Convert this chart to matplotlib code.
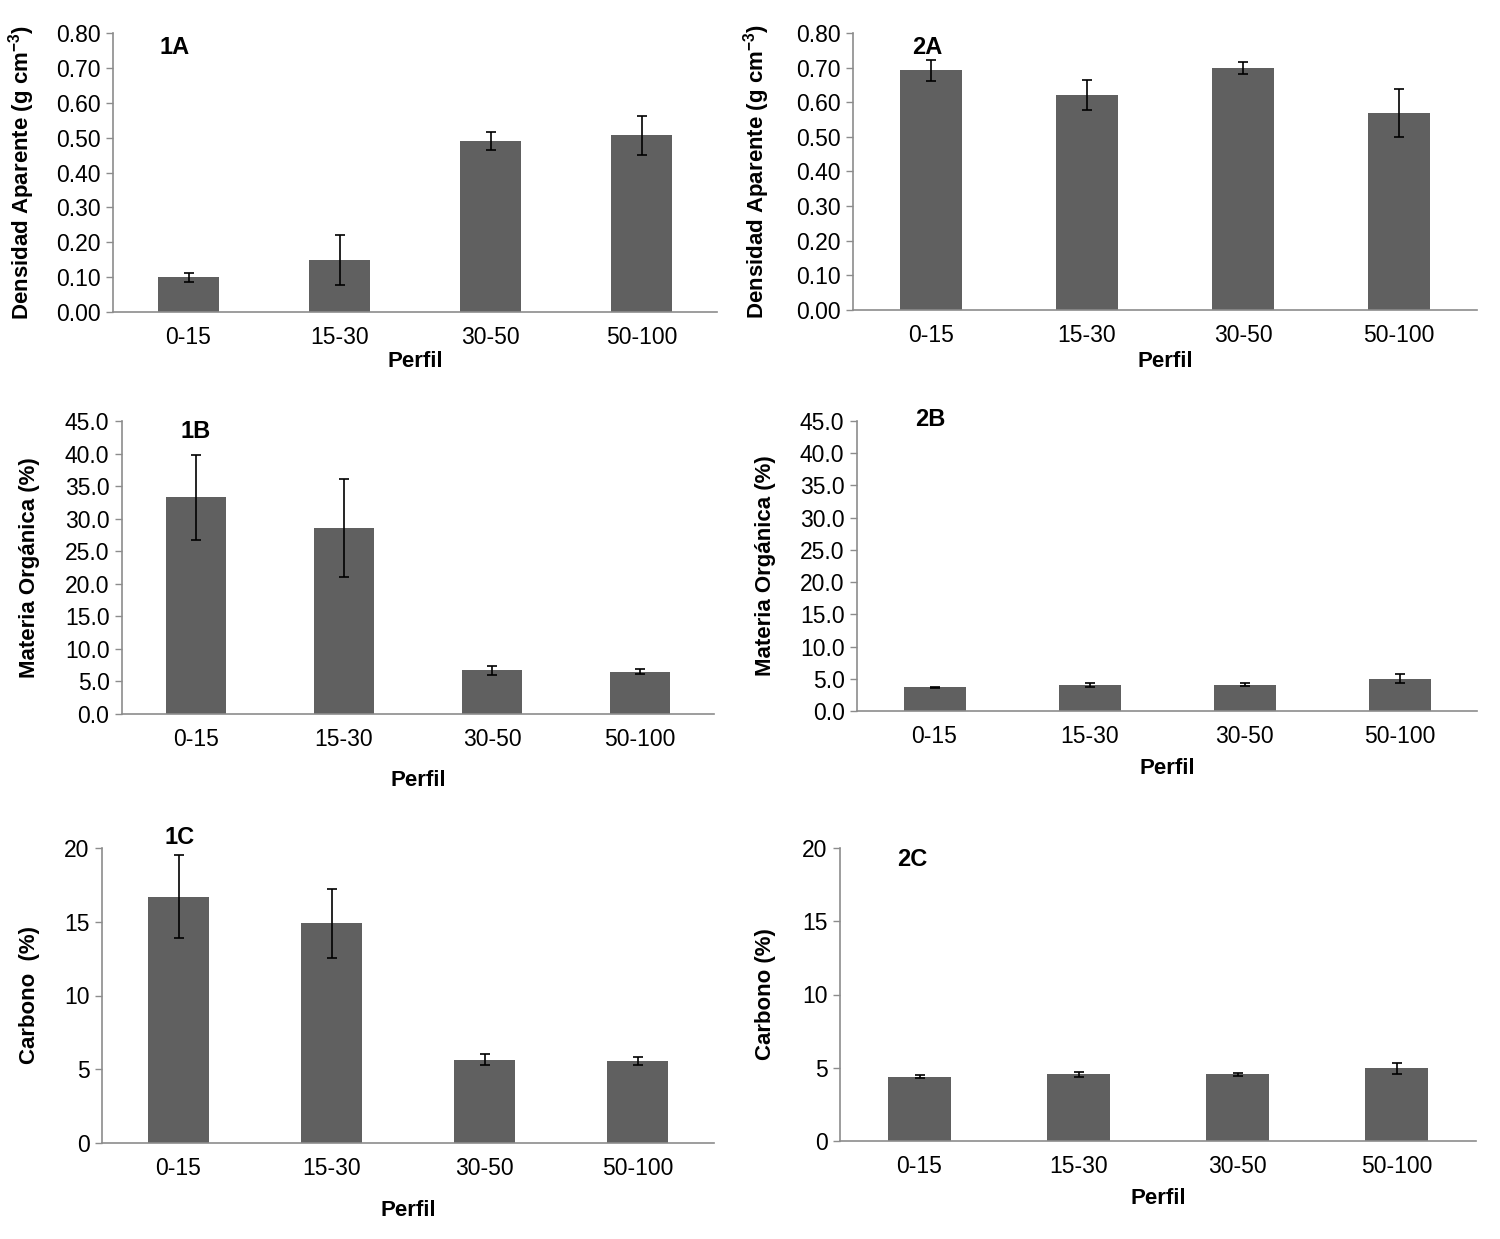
import numpy as np
import matplotlib
matplotlib.use('Agg')
import matplotlib.pyplot as plt

plt.rcParams['font.family'] = ['Liberation Sans', 'DejaVu Sans']
plt.rcParams['mathtext.fontset'] = 'custom'
plt.rcParams['mathtext.rm'] = 'Liberation Sans'
plt.rcParams['mathtext.bf'] = 'Liberation Sans:bold'

# Data
perfil = ['0-15', '15-30', '30-50', '50-100']

dens_1 = [0.10, 0.15, 0.49, 0.507]
dens_1_err = [0.013, 0.072, 0.026, 0.056]
dens_2 = [0.692, 0.62, 0.699, 0.569]
dens_2_err = [0.030, 0.043, 0.018, 0.070]

mo_1 = [33.3, 28.6, 6.7, 6.5]
mo_1_err = [6.5, 7.5, 0.7, 0.35]
mo_2 = [3.7, 4.1, 4.1, 5.0]
mo_2_err = [0.1, 0.3, 0.2, 0.7]

carb_1 = [16.7, 14.9, 5.65, 5.55]
carb_1_err = [2.8, 2.35, 0.38, 0.25]
carb_2 = [4.4, 4.55, 4.55, 4.95]
carb_2_err = [0.08, 0.15, 0.1, 0.4]

W, H = 1500, 1239
fig = plt.figure(figsize=(W / 100, H / 100), dpi=100)

bar_color = '#606060'
spine_color = '#8c8c8c'

# (values, errors, axes box in pixels [left, right, top, bottom], ylim, ticks, fmt,
#  ylabel, ylabel x px, panel label, label pos px, xlabel y px)
panels = [
    (dens_1, dens_1_err, (113, 717, 33, 312), 0.8, np.arange(0, 0.81, 0.1), '{:.2f}',
     'Densidad Aparente (g cm$^{\\mathbf{-3}}$)', 22, '1A', (175, 47), 362),
    (dens_2, dens_2_err, (853, 1477, 33, 310), 0.8, np.arange(0, 0.81, 0.1), '{:.2f}',
     'Densidad Aparente (g cm$^{\\mathbf{-3}}$)', 757, '2A', (927, 47), 362),
    (mo_1, mo_1_err, (122, 714, 421, 714), 45, np.arange(0, 45.1, 5), '{:.1f}',
     'Materia Orgánica (%)', 30, '1B', (196, 432), 781),
    (mo_2, mo_2_err, (857, 1477, 421, 711), 45, np.arange(0, 45.1, 5), '{:.1f}',
     'Materia Orgánica (%)', 765, '2B', (930, 420), 769),
    (carb_1, carb_1_err, (102, 714, 848, 1143), 20, np.arange(0, 21, 5), '{:.0f}',
     'Carbono  (%)', 30, '1C', (180, 838), 1210),
    (carb_2, carb_2_err, (840, 1476, 848, 1141), 20, np.arange(0, 21, 5), '{:.0f}',
     'Carbono (%)', 765, '2C', (912, 860), 1199),
]

x = np.arange(len(perfil))

for vals, errs, box, ymax, ticks, fmt, ylab, ylab_x, plab, plab_pos, xlab_y in panels:
    left, right, top, bottom = box
    ax = fig.add_axes([left / W, 1 - bottom / H, (right - left) / W, (bottom - top) / H])
    ax.bar(x, vals, width=0.4, color=bar_color, zorder=2)
    ax.errorbar(x, vals, yerr=errs, fmt='none', ecolor='black', elinewidth=1.2,
                capsize=3.5, capthick=1.2, zorder=3)
    ax.set_xlim(-0.5, 3.5)
    ax.set_ylim(0, ymax)
    ax.set_yticks(ticks)
    ax.set_yticklabels([fmt.format(t) for t in ticks], fontsize=16.5)
    ax.set_xticks(x)
    ax.set_xticklabels(perfil, fontsize=16.5)
    ax.tick_params(axis='x', length=0, pad=10)
    ax.tick_params(axis='y', length=5, color=spine_color, width=1, pad=4)
    for s in ['top', 'right']:
        ax.spines[s].set_visible(False)
    for s in ['left', 'bottom']:
        ax.spines[s].set_color(spine_color)
        ax.spines[s].set_linewidth(1.2)

    fig.text(ylab_x / W, 1 - ((top + bottom) / 2) / H, ylab, rotation=90,
             ha='center', va='center', fontsize=16, weight='bold')
    fig.text(plab_pos[0] / W, 1 - plab_pos[1] / H, plab,
             ha='center', va='center', fontsize=17, weight='bold')
    fig.text(((left + right) / 2) / W, 1 - xlab_y / H, 'Perfil',
             ha='center', va='center', fontsize=16, weight='bold')

fig.savefig('out.png', dpi=100)
